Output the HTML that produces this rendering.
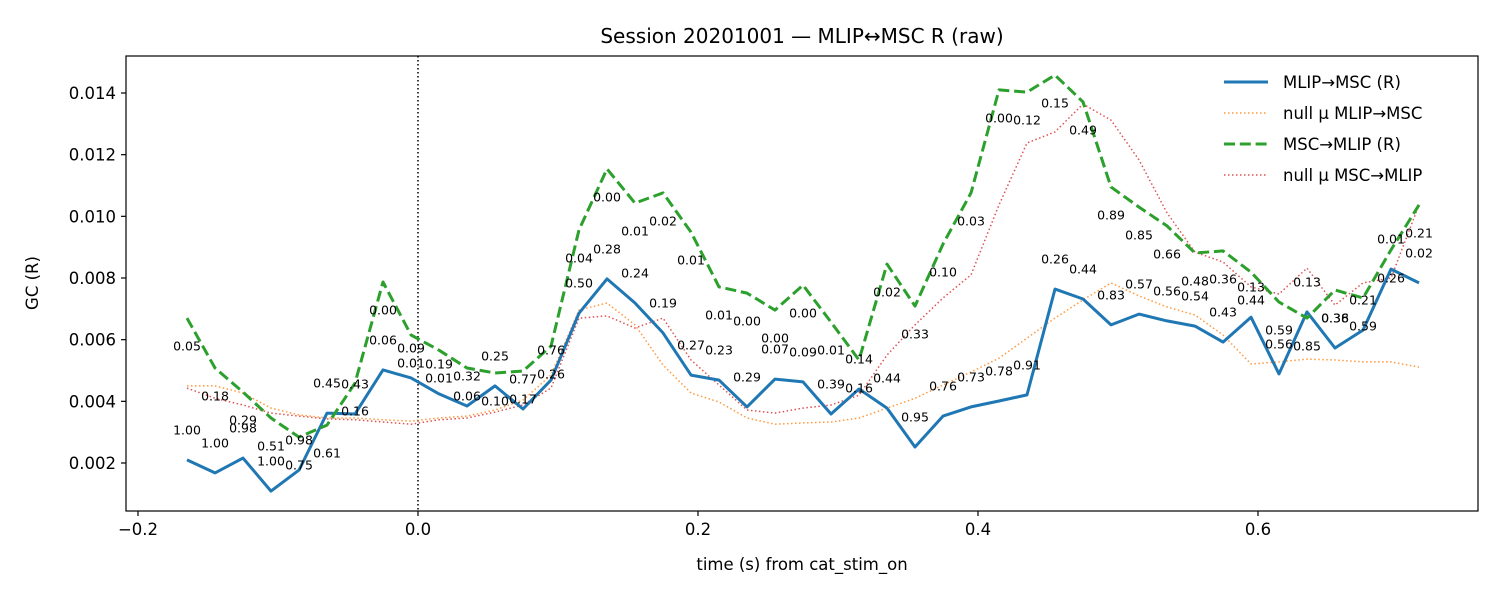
<!DOCTYPE html>
<html><head><meta charset="utf-8"><style>
body{margin:0;background:#fff}
svg{display:block;font-family:"DejaVu Sans","Liberation Sans",sans-serif}
</style></head><body>
<svg id="chart" width="1500" height="600" viewBox="0 0 1500 600" xmlns="http://www.w3.org/2000/svg">
<rect width="1500" height="600" fill="#fff"/>
<text x="802" y="43" font-size="20" text-anchor="middle">Session 20201001 — MLIP↔MSC R (raw)</text>
<g id="plot"></g>
<rect x="126" y="56" width="1352" height="455" fill="none" stroke="#000" stroke-width="1.2"/>
<text x="802" y="570" font-size="16.5" text-anchor="middle">time (s) from cat_stim_on</text>
<text transform="translate(38,283) rotate(-90)" font-size="16.5" text-anchor="middle">GC (R)</text>
<g>
<g><line x1="1224" y1="82" x2="1268" y2="82" stroke="#1f77b4" stroke-width="3"/><text x="1283" y="88" font-size="16.5">MLIP→MSC (R)</text></g>
<g><line x1="1224" y1="113" x2="1268" y2="113" stroke="#ff7f0e" stroke-opacity="0.8" stroke-width="1.5" stroke-dasharray="1.5,2.5"/><text x="1283" y="119" font-size="16.5">null μ MLIP→MSC</text></g>
<g><line x1="1224" y1="144" x2="1268" y2="144" stroke="#2ca02c" stroke-width="3" stroke-dasharray="11,4.8"/><text x="1283" y="150" font-size="16.5">MSC→MLIP (R)</text></g>
<g><line x1="1224" y1="175" x2="1268" y2="175" stroke="#d62728" stroke-opacity="0.8" stroke-width="1.5" stroke-dasharray="1.5,2.5"/><text x="1283" y="181" font-size="16.5">null μ MSC→MLIP</text></g>
</g>
</svg>
<script>
const t0 = -0.165, dt = 0.02;
const gcAB = [0.00210,0.00168,0.00216,0.00109,0.00177,0.00362,0.00359,0.00502,0.00476,0.00424,0.00385,0.00450,0.00375,0.00469,0.00686,0.00797,0.00719,0.00622,0.00485,0.00469,0.00382,0.00472,0.00463,0.00359,0.00440,0.00378,0.00252,0.00352,0.00382,0.00401,0.00421,0.00764,0.00732,0.00648,0.00683,0.00661,0.00644,0.00592,0.00673,0.00489,0.00690,0.00573,0.00631,0.00829,0.00784];
const gcBA = [0.00670,0.00508,0.00430,0.00346,0.00284,0.00323,0.00459,0.00787,0.00615,0.00566,0.00508,0.00492,0.00498,0.00579,0.00956,0.01154,0.01043,0.01076,0.00949,0.00771,0.00751,0.00696,0.00777,0.00657,0.00534,0.00845,0.00709,0.00910,0.01076,0.01410,0.01403,0.01458,0.01371,0.01095,0.01030,0.00969,0.00881,0.00888,0.00819,0.00722,0.00670,0.00761,0.00735,0.00891,0.01037];
const nullAB = [0.00450,0.00450,0.00427,0.00378,0.00356,0.00346,0.00346,0.00340,0.00336,0.00346,0.00352,0.00372,0.00404,0.00485,0.00696,0.00719,0.00648,0.00518,0.00427,0.00398,0.00346,0.00326,0.00330,0.00333,0.00346,0.00378,0.00410,0.00453,0.00495,0.00540,0.00605,0.00670,0.00729,0.00784,0.00742,0.00706,0.00680,0.00615,0.00521,0.00528,0.00537,0.00534,0.00528,0.00528,0.00511];
const nullBA = [0.00443,0.00410,0.00388,0.00362,0.00352,0.00343,0.00340,0.00333,0.00326,0.00340,0.00346,0.00365,0.00388,0.00443,0.00670,0.00677,0.00638,0.00670,0.00534,0.00453,0.00372,0.00362,0.00378,0.00388,0.00420,0.00550,0.00648,0.00735,0.00810,0.01037,0.01238,0.01274,0.01364,0.01312,0.01183,0.01011,0.00884,0.00852,0.00771,0.00748,0.00832,0.00712,0.00784,0.00800,0.01037];
const pAB = ["1.00","1.00","0.98","1.00","0.98","0.45","0.43","0.06","0.09","0.19","0.32","0.25","0.77","0.76","0.50","0.28","0.24","0.19","0.27","0.23","0.29","0.07","0.09","0.39","0.14","0.44","0.95","0.76","0.73","0.78","0.91","0.26","0.44","0.83","0.57","0.56","0.54","0.43","0.13","0.56","0.13","0.38","0.21","0.01","0.02"];
const pBA = ["0.05","0.18","0.29","0.51","0.75","0.61","0.16","0.00","0.01","0.01","0.06","0.10","0.17","0.26","0.04","0.00","0.01","0.02","0.01","0.01","0.00","0.00","0.00","0.01","0.16","0.02","0.33","0.10","0.03","0.00","0.12","0.15","0.49","0.89","0.85","0.66","0.48","0.36","0.44","0.59","0.85","0.36","0.59","0.26","0.21"];
const xTicks = [-0.2,0.0,0.2,0.4,0.6];
const xTickLabels = ["−0.2","0.0","0.2","0.4","0.6"];
const yTicks = [0.002,0.004,0.006,0.008,0.010,0.012,0.014];
const yTickLabels = ["0.002","0.004","0.006","0.008","0.010","0.012","0.014"];

const NS = "http://www.w3.org/2000/svg";
const X = t => 418 + 1400 * t;
const Y = v => 463 - (v - 0.002) * 30833.3;
const plot = document.getElementById('plot');
function mk(tag, attrs){const e=document.createElementNS(NS,tag);for(const k in attrs)e.setAttribute(k,attrs[k]);return e;}
const tAt = i => t0 + dt * i;

xTicks.forEach((v,i)=>{
  const g = mk('g',{});
  
  
  g.appendChild(mk('line',{x1:X(v),x2:X(v),y1:511,y2:516,stroke:'#000','stroke-width':1.2}));
  const tx = mk('text',{x:X(v),y:535,'font-size':16.5,'text-anchor':'middle'});
  tx.textContent = xTickLabels[i];
  g.appendChild(tx);
  plot.appendChild(g);
});
yTicks.forEach((v,i)=>{
  const g = mk('g',{});
  
  
  g.appendChild(mk('line',{x1:121,x2:126,y1:Y(v),y2:Y(v),stroke:'#000','stroke-width':1.2}));
  const tx = mk('text',{x:116,y:Y(v)+6,'font-size':16.5,'text-anchor':'end'});
  tx.textContent = yTickLabels[i];
  g.appendChild(tx);
  plot.appendChild(g);
});

const zl = mk('line',{x1:X(0),x2:X(0),y1:56,y2:511,stroke:'#000','stroke-width':1.5,'stroke-dasharray':'1.5,2.5'});


plot.appendChild(zl);

function series(arr, name, attrs){
  const pts = arr.map((v,i)=>X(tAt(i)).toFixed(1)+','+Y(v).toFixed(1)).join(' ');
  const p = mk('polyline', Object.assign({points:pts,fill:'none','stroke-linejoin':'round'}, attrs));
  
  
  plot.appendChild(p);
}
series(nullAB,'null-mlip-msc-line',{stroke:'#ff7f0e','stroke-opacity':0.8,'stroke-width':1.5,'stroke-dasharray':'1.5,2.5'});
series(nullBA,'null-msc-mlip-line',{stroke:'#d62728','stroke-opacity':0.8,'stroke-width':1.5,'stroke-dasharray':'1.5,2.5'});
series(gcAB,'mlip-msc-line',{stroke:'#1f77b4','stroke-width':3});
series(gcBA,'msc-mlip-line',{stroke:'#2ca02c','stroke-width':3,'stroke-dasharray':'11,4.8'});

pAB.forEach((s,i)=>{
  const tx = mk('text',{x:X(tAt(i)),y:Y(gcAB[i])-30+4.5,'font-size':12.5,'text-anchor':'middle'});
  
  
  tx.textContent = s;
  plot.appendChild(tx);
});
pBA.forEach((s,i)=>{
  const tx = mk('text',{x:X(tAt(i)),y:Y(gcBA[i])+28+4.5,'font-size':12.5,'text-anchor':'middle'});
  
  
  tx.textContent = s;
  plot.appendChild(tx);
});
</script>
</body></html>
